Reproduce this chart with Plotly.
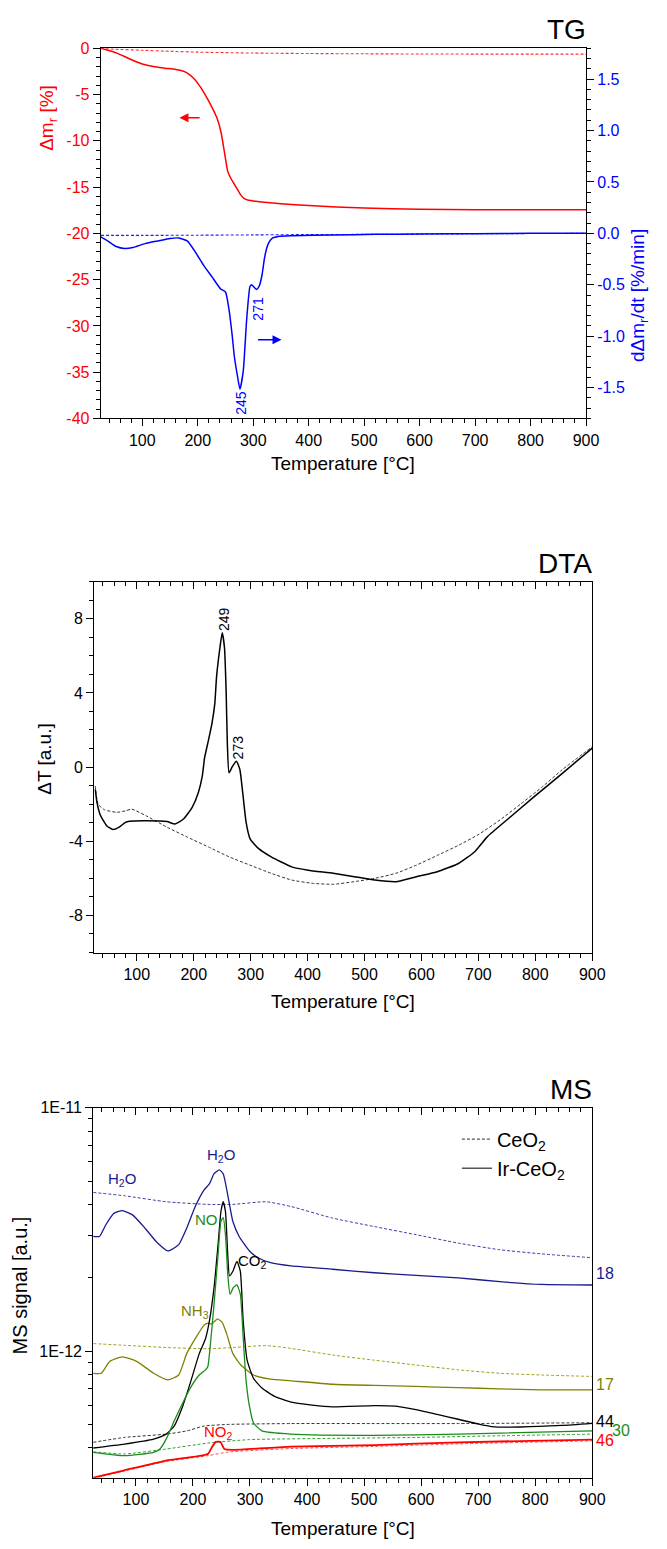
import plotly.graph_objects as go

W, H = 667, 1549
FONT = "Arial, Liberation Sans, sans-serif"

# ---------------- TG panel data ----------------
tg_T_ir = [25, 40, 55, 70, 85, 100, 120, 140, 160, 175, 185, 195, 205, 215, 225, 235, 242, 248, 254, 260, 266, 272, 278, 284, 290, 300, 320, 350, 400, 450, 500, 600, 700, 800, 900]
tg_ir = [0, -0.25, -0.55, -0.95, -1.35, -1.7, -1.98, -2.15, -2.3, -2.5, -2.85, -3.4, -4.2, -5.2, -6.3, -7.6, -9.1, -11.2, -13.3, -14.1, -14.7, -15.3, -15.9, -16.25, -16.4, -16.5, -16.65, -16.8, -17.0, -17.15, -17.25, -17.4, -17.45, -17.45, -17.45]
tg_T_ce = [25, 50, 100, 150, 200, 300, 400, 500, 600, 700, 800, 900]
tg_ce = [0, -0.1, -0.22, -0.33, -0.42, -0.52, -0.57, -0.6, -0.62, -0.63, -0.63, -0.64]

dtg_T_ir = [25, 38, 53, 68, 83, 105, 128, 150, 166, 181, 196, 211, 226, 241, 250, 256, 262, 266, 271, 276, 282, 288, 294, 297, 301, 306, 311, 316, 320, 324, 328, 335, 345, 370, 445, 520, 600, 700, 800, 900]
dtg_ir = [-0.035, -0.075, -0.128, -0.147, -0.138, -0.10, -0.074, -0.05, -0.045, -0.074, -0.185, -0.314, -0.426, -0.54, -0.57, -0.73, -0.99, -1.2, -1.37, -1.515, -1.34, -0.85, -0.52, -0.50, -0.52, -0.545, -0.51, -0.4, -0.25, -0.15, -0.09, -0.045, -0.03, -0.024, -0.016, -0.01, -0.006, -0.003, 0.0, 0.0]
dtg_T_ce = [25, 100, 200, 300, 400, 500, 600, 700, 800, 900]
dtg_ce = [-0.02, -0.02, -0.018, -0.015, -0.012, -0.01, -0.007, -0.004, -0.002, 0.0]

tg_left_ticks = [0, -5, -10, -15, -20, -25, -30, -35, -40]
tg_left_text = ["0", "-5", "-10", "-15", "-20", "-25", "-30", "-35", "-40"]
tg_right_ticks = [1.5, 1.0, 0.5, 0.0, -0.5, -1.0, -1.5]
tg_right_text = ["1.5", "1.0", "0.5", "0.0", "-0.5", "-1.0", "-1.5"]

# ---------------- DTA panel data ----------------
dta_T_ir = [27, 30, 36, 47, 58, 69, 80, 87, 116, 153, 167, 182, 197, 208, 215, 219, 226, 232, 237, 240, 246, 250, 254, 257, 259, 262, 268, 275, 281, 286, 292, 299, 314, 336, 372, 401, 445, 482, 518, 555, 591, 628, 665, 694, 716, 752, 796, 847, 900]
dta_ir = [-1.2, -1.9, -2.6, -3.16, -3.37, -3.24, -2.98, -2.92, -2.89, -2.94, -3.07, -2.8, -2.18, -1.38, -0.49, 0.49, 1.47, 2.36, 3.42, 4.84, 6.44, 7.24, 6.44, 3.96, 1.29, -0.31, 0.04, 0.31, -0.13, -1.38, -2.98, -3.87, -4.4, -4.84, -5.38, -5.56, -5.73, -5.91, -6.09, -6.18, -5.91, -5.64, -5.2, -4.55, -3.75, -2.8, -1.65, -0.35, 1.02]
dta_T_ce = [27, 32, 43, 65, 80, 91, 116, 153, 189, 226, 262, 299, 336, 372, 409, 445, 482, 518, 555, 591, 628, 665, 701, 738, 774, 811, 847, 900]
dta_ce = [-1.02, -2.0, -2.3, -2.44, -2.36, -2.27, -2.62, -3.24, -3.78, -4.31, -4.84, -5.29, -5.73, -6.09, -6.27, -6.32, -6.18, -6.0, -5.73, -5.29, -4.76, -4.22, -3.62, -2.85, -2.0, -1.1, -0.15, 1.1]

dta_ticks = [8, 4, 0, -4, -8]
dta_text = ["8", "4", "0", "-4", "-8"]

# ---------------- MS panel data (signal in units of 1E-12) ----------------
h2o_T_ir = [25, 36, 47, 61, 76, 94, 116, 138, 156, 175, 189, 204, 219, 229, 237, 246, 253, 261, 270, 281, 299, 314, 336, 372, 445, 518, 591, 665, 738, 811, 900]
h2o_ir = [2.96, 2.96, 3.30, 3.68, 3.78, 3.63, 3.20, 2.78, 2.58, 2.74, 3.20, 3.93, 4.58, 4.88, 5.36, 5.56, 5.36, 4.38, 3.41, 2.96, 2.58, 2.42, 2.31, 2.24, 2.17, 2.10, 2.05, 2.00, 1.93, 1.88, 1.87]
h2o_T_ce = [25, 80, 153, 226, 270, 328, 372, 445, 518, 591, 665, 738, 811, 900]
h2o_ce = [4.49, 4.35, 4.11, 4.01, 4.01, 4.11, 3.93, 3.52, 3.25, 3.01, 2.78, 2.61, 2.51, 2.42]

nh3_T_ir = [25, 39, 54, 76, 102, 131, 156, 175, 189, 204, 219, 226, 233, 243, 251, 259, 270, 284, 306, 336, 372, 445, 518, 591, 665, 738, 811, 900]
nh3_ir = [0.811, 0.811, 0.906, 0.948, 0.906, 0.811, 0.762, 0.798, 0.977, 1.125, 1.276, 1.303, 1.294, 1.358, 1.315, 1.18, 0.977, 0.877, 0.798, 0.767, 0.755, 0.731, 0.723, 0.716, 0.708, 0.70, 0.693, 0.693]
nh3_T_ce = [25, 80, 153, 226, 270, 328, 372, 445, 518, 591, 665, 738, 811, 900]
nh3_ce = [1.074, 1.057, 1.035, 1.023, 1.035, 1.054, 1.026, 0.964, 0.918, 0.877, 0.838, 0.811, 0.798, 0.787]

co2_T_ir = [25, 80, 131, 153, 167, 182, 197, 211, 222, 229, 237, 244, 249, 253, 257, 261, 264, 270, 277, 283, 288, 295, 306, 321, 343, 372, 409, 445, 518, 555, 591, 628, 665, 701, 723, 774, 847, 900]
co2_ir = [0.40, 0.415, 0.435, 0.456, 0.492, 0.594, 0.762, 0.977, 1.125, 1.337, 1.828, 2.74, 3.74, 4.11, 3.74, 2.49, 2.04, 2.13, 2.34, 2.13, 1.337, 0.918, 0.774, 0.705, 0.652, 0.617, 0.60, 0.59, 0.597, 0.594, 0.575, 0.55, 0.525, 0.501, 0.49, 0.488, 0.495, 0.505]
co2_T_ce = [25, 80, 153, 189, 219, 262, 372, 518, 665, 900]
co2_ce = [0.422, 0.442, 0.456, 0.47, 0.492, 0.50, 0.504, 0.504, 0.504, 0.508]

no_T_ir = [25, 80, 131, 142, 153, 167, 182, 197, 211, 222, 226, 229, 237, 244, 249, 253, 257, 261, 265, 271, 277, 283, 288, 293, 299, 306, 321, 372, 518, 665, 900]
no_ir = [0.384, 0.372, 0.384, 0.396, 0.435, 0.516, 0.612, 0.716, 0.798, 0.838, 0.863, 0.977, 1.563, 2.49, 3.41, 3.54, 3.01, 2.07, 1.714, 1.828, 1.87, 1.714, 1.143, 0.762, 0.594, 0.508, 0.47, 0.456, 0.451, 0.456, 0.47]
no_T_ce = [25, 80, 153, 226, 299, 445, 591, 738, 900]
no_ce = [0.386, 0.378, 0.396, 0.419, 0.433, 0.438, 0.442, 0.449, 0.456]

no2_T_ir = [25, 80, 153, 226, 233, 240, 248, 255, 270, 372, 518, 665, 900]
no2_ir = [0.302, 0.324, 0.355, 0.378, 0.402, 0.424, 0.424, 0.396, 0.393, 0.405, 0.411, 0.422, 0.433]
no2_T_ce = [25, 80, 153, 226, 262, 372, 518, 665, 900]
no2_ce = [0.30, 0.322, 0.352, 0.372, 0.385, 0.398, 0.406, 0.416, 0.428]

ms_major = [1e-12, 1e-11]
ms_major_text = ["1E-12", "1E-11"]
ms_minor = [3e-13, 4e-13, 5e-13, 6e-13, 7e-13, 8e-13, 9e-13, 2e-12, 3e-12, 4e-12, 5e-12, 6e-12, 7e-12, 8e-12, 9e-12]

E12 = 1e-12

# ---------------- geometry (pixels) ----------------
def fx(p):
    return p / W

def fy(p):
    return 1 - p / H

TG_L, TG_R, TG_T, TG_B = 102.7, 597.7, 40.7, 415.0
DT_L, DT_R, DT_T, DT_B = 96.0, 604.0, 580.0, 955.0
MS_L, MS_R, MS_T, MS_B = 95.0, 604.0, 1112.0, 1486.0

DASH = "3px,2px"
fig = go.Figure()

def line(x, y, xa, ya, color, width=1.4, dash=None, name=None, legend=False):
    fig.add_trace(go.Scatter(
        x=x, y=y, xaxis=xa, yaxis=ya, mode="lines", name=name,
        line=dict(color=color, width=width, dash=dash, shape="spline", smoothing=0.5),
        showlegend=legend, hoverinfo="skip"))

# TG
line(tg_T_ce, tg_ce, "x", "y", "#ff3030", 1.1, DASH)
line(tg_T_ir, tg_ir, "x", "y", "#ff0000", 1.5)
line(dtg_T_ce, dtg_ce, "x", "y2", "#2020ff", 1.1, DASH)
line(dtg_T_ir, dtg_ir, "x", "y2", "#0000ff", 1.5)

# DTA
line(dta_T_ce, dta_ce, "x2", "y3", "#333333", 1.0, DASH)
line(dta_T_ir, dta_ir, "x2", "y3", "#000000", 1.5)
fig.add_trace(go.Scatter(x=[None], y=[None], xaxis="x4", yaxis="y3", showlegend=False, hoverinfo="skip"))

# MS
ms_series = [
    (h2o_T_ce, h2o_ce, "#3c3ca8", True, 1.0), (h2o_T_ir, h2o_ir, "#1a1a8c", False, 1.3),
    (nh3_T_ce, nh3_ce, "#a0a020", True, 1.0), (nh3_T_ir, nh3_ir, "#808000", False, 1.3),
    (co2_T_ce, co2_ce, "#333333", True, 1.0), (co2_T_ir, co2_ir, "#000000", False, 1.3),
    (no_T_ce, no_ce, "#30a030", True, 1.0), (no_T_ir, no_ir, "#1a8c1a", False, 1.3),
    (no2_T_ce, no2_ce, "#ff5050", True, 1.0), (no2_T_ir, no2_ir, "#ff0000", False, 1.8),
]
for xs, ys, c, dashed, wd in ms_series:
    line(xs, [v * E12 for v in ys], "x3", "y4", c, wd, DASH if dashed else None)
fig.add_trace(go.Scatter(x=[None], y=[None], xaxis="x5", yaxis="y4", showlegend=False, hoverinfo="skip"))

# legend entries
fig.add_trace(go.Scatter(x=[None], y=[None], xaxis="x3", yaxis="y4", mode="lines", name="CeO<sub>2</sub>",
                         line=dict(color="#555555", width=1.2, dash=DASH), showlegend=True))
fig.add_trace(go.Scatter(x=[None], y=[None], xaxis="x3", yaxis="y4", mode="lines", name="Ir-CeO<sub>2</sub>",
                         line=dict(color="#555555", width=1.5), showlegend=True))

tickfont = dict(family=FONT, size=16, color="black")

def xaxis_common(dom, anchor):
    return dict(domain=dom, anchor=anchor, range=[25, 900], showline=True, linecolor="black", linewidth=1,
                ticks="outside", ticklen=7, tickwidth=1, tickcolor="black", tick0=0, dtick=100,
                minor=dict(ticks="outside", ticklen=4, tick0=0, dtick=20, tickcolor="black"),
                tickfont=tickfont, showgrid=False, zeroline=False, mirror=True)

def top_axis(over, anchor):
    return dict(overlaying=over, side="top", anchor=anchor, range=[25, 900], showline=False,
                ticks="inside", ticklen=7, tickcolor="black", tick0=0, dtick=100,
                minor=dict(ticks="inside", ticklen=4, tick0=0, dtick=20, tickcolor="black"),
                showticklabels=False, showgrid=False, zeroline=False)

fig.update_layout(
    width=W, height=H, margin=dict(l=0, r=0, t=0, b=0),
    paper_bgcolor="white", plot_bgcolor="white",
    font=dict(family=FONT, size=16, color="black"),
    xaxis=xaxis_common([fx(TG_L), fx(TG_R)], "y"),
    yaxis=dict(domain=[fy(TG_B), fy(TG_T)], anchor="x", range=[-40, 0], showline=True, linecolor="black",
               ticks="outside", ticklen=7, tickcolor="black", tickmode="array", tickvals=tg_left_ticks,
               ticktext=tg_left_text, minor=dict(ticks="outside", ticklen=4, tick0=0, dtick=1, tickcolor="black"),
               tickfont=dict(family=FONT, size=16, color="#ff0000"), showgrid=False, zeroline=False),
    yaxis2=dict(overlaying="y", side="right", anchor="x", range=[-1.8, 1.8], showline=True, linecolor="black",
                ticks="outside", ticklen=7, tickcolor="black", tickmode="array", tickvals=tg_right_ticks,
                ticktext=tg_right_text, minor=dict(ticks="outside", ticklen=4, tick0=0, dtick=0.1, tickcolor="black"),
                tickfont=dict(family=FONT, size=16, color="#0000ff"), showgrid=False, zeroline=False),
    xaxis2=xaxis_common([fx(DT_L), fx(DT_R)], "y3"),
    yaxis3=dict(domain=[fy(DT_B), fy(DT_T)], anchor="x2", range=[-10, 10], showline=True, linecolor="black",
                mirror=True, ticks="outside", ticklen=7, tickcolor="black", tickmode="array", tickvals=dta_ticks,
                ticktext=dta_text, minor=dict(ticks="outside", ticklen=4, tick0=0, dtick=1, tickcolor="black"),
                tickfont=tickfont, showgrid=False, zeroline=False),
    xaxis4=top_axis("x2", "y3"),
    xaxis3=xaxis_common([fx(MS_L), fx(MS_R)], "y4"),
    yaxis4=dict(domain=[fy(MS_B), fy(MS_T)], anchor="x3", type="log", range=[-12.52, -11], showline=True,
                linecolor="black", mirror=True, ticks="outside", ticklen=7, tickcolor="black", tickmode="array",
                tickvals=ms_major, ticktext=ms_major_text,
                minor=dict(ticks="outside", ticklen=4, tickmode="array", tickvals=ms_minor, tickcolor="black"),
                tickfont=tickfont, showgrid=False, zeroline=False),
    xaxis5=top_axis("x3", "y4"),
    legend=dict(x=fx(466), y=fy(1124), xanchor="left", yanchor="top", bgcolor="rgba(0,0,0,0)",
                font=dict(family=FONT, size=20, color="black"), tracegroupgap=0, itemwidth=30),
)

ann = []

def text(s, x, y, size=16, color="black", angle=0, xanchor="center", yanchor="middle", xref="paper", yref="paper"):
    ann.append(dict(text=s, x=x, y=y, xref=xref, yref=yref, showarrow=False, textangle=angle,
                    xanchor=xanchor, yanchor=yanchor, font=dict(family=FONT, size=size, color=color)))

# panel titles
text("TG", fx(TG_R + 2), fy(TG_T - 1), 28, xanchor="right", yanchor="bottom")
text("DTA", fx(DT_R + 2), fy(DT_T - 1), 28, xanchor="right", yanchor="bottom")
text("MS", fx(MS_R + 2), fy(MS_T - 1), 28, xanchor="right", yanchor="bottom")

# axis titles
text("Temperature [°C]", fx((TG_L + TG_R) / 2), fy(461), 19)
text("Δm<sub>r</sub> [%]", fx(49), fy(111), 19, "#ff0000", -90)
text("dΔm<sub>r</sub>/dt [%/min]", fx(652), fy(291), 19, "#0000ff", -90)
text("Temperature [°C]", fx((DT_L + DT_R) / 2), fy(1005), 19)
text("ΔT [a.u.]", fx(46), fy(760), 19, "black", -90)
text("Temperature [°C]", fx((MS_L + MS_R) / 2), fy(1537), 19)
text("MS signal [a.u.]", fx(20), fy(1292), 20, "black", -90)

# TG peak labels
text("245", 276.5, -1.646, 14, "#0000ff", -90, xref="x", yref="y2")
text("271", 309, -0.73, 14, "#0000ff", -90, xref="x", yref="y2")
# DTA peak labels
text("249", 252, 8.0, 14, "black", -90, xref="x2", yref="y3")
text("273", 278, 1.07, 14, "black", -90, xref="x2", yref="y3")

# MS labels (y in log10 units)
text("H<sub>2</sub>O", 75, -11.296, 15, "#1a1a8c", xref="x3", yref="y4")
text("H<sub>2</sub>O", 250, -11.197, 15, "#1a1a8c", xref="x3", yref="y4")
text("NO", 223, -11.457, 15, "#1a8c1a", xref="x3", yref="y4")
text("CO<sub>2</sub>", 304, -11.633, 15, "black", xref="x3", yref="y4")
text("NH<sub>3</sub>", 204, -11.836, 15, "#808000", xref="x3", yref="y4")
text("NO<sub>2</sub>", 245, -12.335, 15, "#ff0000", xref="x3", yref="y4")
text("18", fx(MS_R + 2), -11.68, 16, "#1a1a8c", xanchor="left", yref="y4")
text("17", fx(MS_R + 2), -12.138, 16, "#808000", xanchor="left", yref="y4")
text("44", fx(MS_R + 2), -12.291, 16, "black", xanchor="left", yref="y4")
text("30", fx(MS_R + 18), -12.325, 16, "#1a8c1a", xanchor="left", yref="y4")
text("46", fx(MS_R + 2), -12.369, 16, "#ff0000", xanchor="left", yref="y4")

# arrows
ann.append(dict(x=167, y=-7.5, ax=206, ay=-7.5, xref="x", yref="y", axref="x", ayref="y", text="",
                showarrow=True, arrowhead=2, arrowsize=1.2, arrowwidth=1.5, arrowcolor="#ff0000"))
ann.append(dict(x=351, y=-1.035, ax=306, ay=-1.035, xref="x", yref="y2", axref="x", ayref="y2", text="",
                showarrow=True, arrowhead=2, arrowsize=1.2, arrowwidth=1.5, arrowcolor="#0000ff"))

fig.update_layout(annotations=ann)
fig.write_html("out.html")
